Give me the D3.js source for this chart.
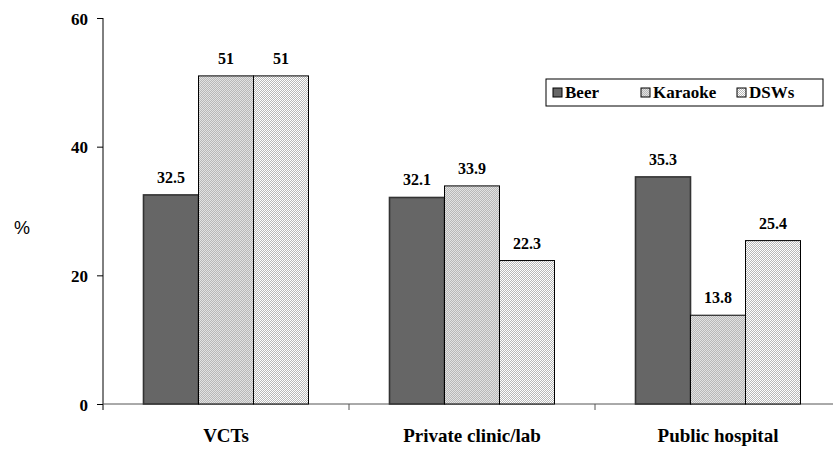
<!DOCTYPE html>
<html><head><meta charset="utf-8">
<script src="https://cdn.jsdelivr.net/npm/d3@7"></script>
<style>body{margin:0;background:#fff}svg{display:block}</style>
</head><body>
<script>
const categories = ["VCTs", "Private clinic/lab", "Public hospital"];
const seriesNames = ["Beer", "Karaoke", "DSWs"];
const beer = [32.5, 32.1, 35.3];
const karaoke = [51, 33.9, 13.8];
const dsws = [51, 22.3, 25.4];
const yTicks = [0, 20, 40, 60];
const seriesValues = [beer, karaoke, dsws];

const SERIF = '"Liberation Serif"';
function serif(sel, size) {
  return sel.style("font-family", SERIF).style("font-weight", "bold")
    .style("font-size", size + "px").style("fill", "#000");
}

const W = 833, H = 450;
const svg = d3.select("body").append("svg").attr("width", W).attr("height", H);
const defs = svg.append("defs");
function checker(id, base, dot) {
  const p = defs.append("pattern").attr("id", id).attr("patternUnits", "userSpaceOnUse")
    .attr("width", 2).attr("height", 2);
  p.append("rect").attr("width", 2).attr("height", 2).attr("fill", base);
  p.append("rect").attr("width", 1).attr("height", 1).attr("fill", dot);
  p.append("rect").attr("x", 1).attr("y", 1).attr("width", 1).attr("height", 1).attr("fill", dot);
}
checker("pK", "#e2e2e2", "#b8b8b8");
checker("pD", "#ffffff", "#b8b8b8");
const fills = ["#666666", "url(#pK)", "url(#pD)"];
const strokes = ["#333333", "#000000", "#000000"];
const strokeW = [1.6, 1, 1];

const x0 = d3.scaleBand().domain(categories).range([103, 841]).padding(0);
const x1 = d3.scaleBand().domain(seriesNames).range([40.5, 205.5]).padding(0);
const y = d3.scaleLinear().domain([0, 60]).range([404, 18]);

// y axis
const ya = svg.append("g").attr("transform", "translate(103,0)")
  .call(d3.axisLeft(y).tickValues(yTicks).tickSize(6).tickSizeOuter(0).tickPadding(9));
ya.select(".domain").attr("stroke", "#000").attr("d", "M0,18V410");
ya.selectAll(".tick line").attr("stroke", "#000");
serif(ya.selectAll(".tick text"), 17).attr("dy", "0.36em");

// x axis
const xa = svg.append("g").attr("transform", "translate(0,404)")
  .call(d3.axisBottom(x0).tickSize(0).tickPadding(25));
xa.select(".domain").attr("stroke", "#555").attr("d", "M103,0H833");
serif(xa.selectAll(".tick text"), 19);
// boundary ticks
svg.append("g").selectAll("line").data(categories)
  .join("line")
  .attr("x1", (d, i) => 103 + x0.bandwidth() * (i + 1))
  .attr("x2", (d, i) => 103 + x0.bandwidth() * (i + 1))
  .attr("y1", 404).attr("y2", 410).attr("stroke", "#555");

// bars
const groups = svg.append("g").selectAll("g").data(categories).join("g")
  .attr("transform", d => `translate(${x0(d)},0)`);
groups.each(function(cat, ci) {
  const g = d3.select(this);
  seriesNames.forEach((s, si) => {
    const v = seriesValues[si][ci];
    g.append("rect").attr("x", x1(s)).attr("width", x1.bandwidth())
      .attr("y", y(v)).attr("height", y(0) - y(v))
      .attr("fill", fills[si]).attr("stroke", strokes[si]).attr("stroke-width", strokeW[si]);
    serif(g.append("text"), 16).attr("x", x1(s) + x1.bandwidth() / 2).attr("y", y(v) - 12)
      .attr("text-anchor", "middle").text(v);
  });
});

// y label
svg.append("text").attr("x", 22).attr("y", 234).attr("text-anchor", "middle")
  .style("font-family", '"Liberation Sans"').style("font-size", "18px").text("%");

// legend
const lg = svg.append("g");
lg.append("rect").attr("x", 546).attr("y", 79).attr("width", 277).attr("height", 27)
  .attr("fill", "#fff").attr("stroke", "#000").attr("stroke-width", 1);
const lx = [553, 641, 737];
seriesNames.forEach((s, i) => {
  lg.append("rect").attr("x", lx[i]).attr("y", 88).attr("width", 9).attr("height", 9)
    .attr("fill", fills[i]).attr("stroke", "#000").attr("stroke-width", 1);
  serif(lg.append("text"), 17).attr("x", lx[i] + 12).attr("y", 98).text(s);
});
</script>
</body></html>
